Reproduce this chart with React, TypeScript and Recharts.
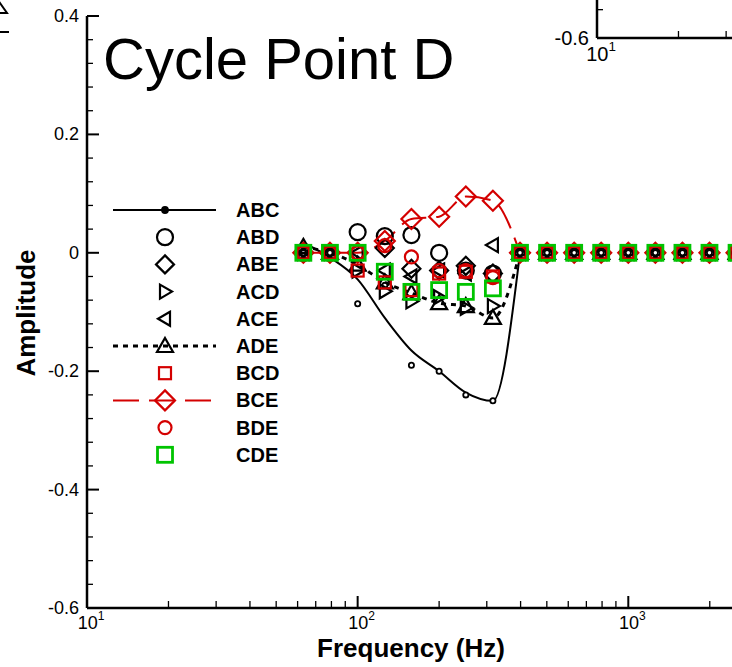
import { LineChart, Line, XAxis, YAxis, Legend } from "recharts";

const FONT = "'Liberation Sans', Arial, sans-serif";
const RED = "#d40000";
const GREEN = "#00c400";

// frequencies (Hz), 1/10 decade steps
const FREQ = [63, 79, 100, 126, 158, 200, 251, 316, 398, 501, 631, 794, 1000, 1259, 1585, 1995, 2512];

// amplitudes
const ABC = [0, 0, -0.086, -0.055, -0.19, -0.2, -0.24, -0.25, 0, 0, 0, 0, 0, 0, 0, 0, 0];
const ABC_FIT = [0.017, -0.008, -0.045, -0.11, -0.165, -0.2, -0.236, -0.25, 0];
const ABD = [0, 0, 0.035, 0.028, 0.03, 0, -0.03, -0.035, 0, 0, 0, 0, 0, 0, 0, 0, 0];
const ABE = [0, 0, 0, 0.008, -0.027, -0.03, -0.022, -0.035, 0, 0, 0, 0, 0, 0, 0, 0, 0];
const ACD = [0, 0, -0.03, -0.065, -0.082, -0.075, -0.093, -0.09, 0, 0, 0, 0, 0, 0, 0, 0, 0];
const ACE = [0, 0, 0, -0.03, -0.04, -0.03, -0.035, 0.013, 0, 0, 0, 0, 0, 0, 0, 0, 0];
const ADE = [0.01, 0, -0.02, -0.05, -0.068, -0.085, -0.09, -0.11, 0, 0, 0, 0, 0, 0, 0, 0, 0];
const BCD = [0, 0, -0.03, -0.05, -0.063, -0.035, -0.032, -0.04, 0, 0, 0, 0, 0, 0, 0, 0, 0];
const BCE = [0, 0, 0, 0.02, 0.057, 0.061, 0.095, 0.088, 0, 0, 0, 0, 0, 0, 0, 0, 0];
const BDE = [0, 0, 0, 0.012, -0.007, -0.03, -0.03, -0.042, 0, 0, 0, 0, 0, 0, 0, 0, 0];
const CDE = [0, 0, 0, -0.032, -0.066, -0.063, -0.066, -0.06, 0, 0, 0, 0, 0, 0, 0, 0, 0];

// lines are only drawn up to this frequency
const LINE_END_HZ = 398;

const X_TICKS = [10, 20, 30, 40, 50, 60, 70, 80, 90, 100, 200, 300, 400, 500, 600, 700, 800, 900, 1000, 2000];
const Y_TICKS = [
  -0.6, -0.56, -0.52, -0.48, -0.44, -0.4, -0.36, -0.32, -0.28, -0.24, -0.2, -0.16, -0.12,
  -0.08, -0.04, 0, 0.04, 0.08, 0.12, 0.16, 0.2, 0.24, 0.28, 0.32, 0.36, 0.4,
];
// only the corner of the panel above is on the page
const INSET_X_TICKS = [10, 20, 30];
const INSET_Y_TICKS = [-0.6, -0.5];

type Shape = "dot" | "circle" | "circleSm" | "diamond" | "diamondLg" | "triR" | "triL" | "triU" | "square" | "squareLg";
type LineKind = "none" | "solid" | "dotted" | "dashed";

const SERIES: { key: string; name: string; shape: Shape; color: string; line: LineKind }[] = [
  { key: "abc", name: "ABC", shape: "dot", color: "#000", line: "solid" },
  { key: "abd", name: "ABD", shape: "circle", color: "#000", line: "none" },
  { key: "abe", name: "ABE", shape: "diamond", color: "#000", line: "none" },
  { key: "acd", name: "ACD", shape: "triR", color: "#000", line: "none" },
  { key: "ace", name: "ACE", shape: "triL", color: "#000", line: "none" },
  { key: "ade", name: "ADE", shape: "triU", color: "#000", line: "dotted" },
  { key: "bcd", name: "BCD", shape: "square", color: RED, line: "none" },
  { key: "bce", name: "BCE", shape: "diamondLg", color: RED, line: "dashed" },
  { key: "bde", name: "BDE", shape: "circleSm", color: RED, line: "none" },
  { key: "cde", name: "CDE", shape: "squareLg", color: GREEN, line: "none" },
];

const rows = FREQ.map((f, i) => ({
  f,
  abc: ABC[i],
  abcFit: i < ABC_FIT.length ? ABC_FIT[i] : null,
  abd: ABD[i],
  abe: ABE[i],
  acd: ACD[i],
  ace: ACE[i],
  ade: ADE[i],
  bcd: BCD[i],
  bce: BCE[i],
  bde: BDE[i],
  cde: CDE[i],
}));

function Marker({ shape, x, y, color, filled }: { shape: Shape; x: number; y: number; color: string; filled?: boolean }) {
  const sw = 2.2;
  switch (shape) {
    case "dot":
      return <circle cx={x} cy={y} r={filled ? 3 : 2.6} fill={filled ? color : "#fff"} stroke={color} strokeWidth={1.8} />;
    case "circle":
      return <circle cx={x} cy={y} r={8} fill="none" stroke={color} strokeWidth={sw} />;
    case "circleSm":
      return <circle cx={x} cy={y} r={6.5} fill="none" stroke={color} strokeWidth={sw} />;
    case "diamond":
    case "diamondLg": {
      const s = shape === "diamond" ? 9 : 10;
      return <polygon points={`${x},${y - s} ${x + s},${y} ${x},${y + s} ${x - s},${y}`} fill="none" stroke={color} strokeWidth={sw} />;
    }
    case "triR":
      return <polygon points={`${x - 5},${y - 7} ${x + 7},${y} ${x - 5},${y + 7}`} fill="none" stroke={color} strokeWidth={sw} />;
    case "triL":
      return <polygon points={`${x + 5},${y - 7} ${x - 7},${y} ${x + 5},${y + 7}`} fill="none" stroke={color} strokeWidth={sw} />;
    case "triU":
      return <polygon points={`${x},${y - 8} ${x + 8},${y + 6} ${x - 8},${y + 6}`} fill="none" stroke={color} strokeWidth={sw} />;
    case "square":
      return <rect x={x - 6} y={y - 6} width={12} height={12} fill="none" stroke={color} strokeWidth={sw} />;
    case "squareLg":
      return <rect x={x - 7.5} y={y - 7.5} width={15} height={15} fill="none" stroke={color} strokeWidth={2.8} />;
  }
  return null;
}

const dotFor = (s: (typeof SERIES)[number]) => (p: any) => {
  const k = `${s.key}-${p.index}`;
  if (p.cx == null || p.cy == null || p.value == null) return <g key={k} />;
  return (
    <g key={k}>
      <Marker shape={s.shape} x={p.cx} y={p.cy} color={s.color} />
    </g>
  );
};

const isPow10 = (v: number) => Math.abs(Math.log10(v) - Math.round(Math.log10(v))) < 1e-9;
const isMajorY = (v: number) => Math.abs(v / 0.2 - Math.round(v / 0.2)) < 1e-6;
const fmtY = (v: number) => (Math.abs(v) < 1e-9 ? "0" : v.toFixed(1));

const xTick = (fs: number) => (p: any) => {
  const { x, y, payload } = p;
  const v = payload.value as number;
  const major = isPow10(v);
  return (
    <g>
      <line x1={x} x2={x} y1={y} y2={y - (major ? 12 : 7)} stroke="#000" strokeWidth={major ? 2 : 1.3} />
      {major && (
        <text x={x + 4} y={y + fs + 3} textAnchor="middle" fontSize={fs} fontFamily={FONT} fill="#000">
          10
          <tspan dy={-fs / 2} fontSize={fs * 0.67}>
            {Math.round(Math.log10(v))}
          </tspan>
        </text>
      )}
    </g>
  );
};

const yTick = (fs: number) => (p: any) => {
  const { x, y, payload } = p;
  const v = payload.value as number;
  const major = isMajorY(v);
  return (
    <g>
      <line x1={x} x2={x + (major ? 12 : 6)} y1={y} y2={y} stroke="#000" strokeWidth={major ? 2 : 1.3} />
      {major && (
        <text x={x - 8} y={y + fs / 3} textAnchor="end" fontSize={fs} fontFamily={FONT} fill="#000">
          {fmtY(v)}
        </text>
      )}
    </g>
  );
};

const dashOf = (l: LineKind) => (l === "dotted" ? "5 5" : l === "dashed" ? "26 10" : undefined);
const widthOf = (l: LineKind) => (l === "dotted" ? 3 : 2);

function LegendBox() {
  return (
    <svg width={200} height={280} style={{ overflow: "visible" }}>
      {SERIES.map((s, i) => {
        const cy = 14 + i * 27.2;
        return (
          <g key={s.key}>
            {s.line !== "none" && (
              <line x1={8} x2={111} y1={cy} y2={cy} stroke={s.color} strokeWidth={widthOf(s.line)} strokeDasharray={dashOf(s.line)} />
            )}
            <Marker shape={s.shape} x={60} y={cy} color={s.color} filled />
            <text x={131} y={cy + 7} fontSize={20} fontWeight="bold" fontFamily={FONT} fill="#000">
              {s.name}
            </text>
          </g>
        );
      })}
    </svg>
  );
}

const lineVal = (key: string) => (r: any) => (r.f <= LINE_END_HZ ? r[key] : null);

export default function App() {
  return (
    <div style={{ position: "absolute", left: 0, top: 0, width: 732, height: 667, overflow: "hidden", background: "#fff", fontFamily: FONT }}>
      {/* bottom of the panel above, cut off by the page */}
      <div style={{ position: "absolute", left: 510, top: -40 }}>
        <LineChart width={746} height={108} data={rows} margin={{ top: 10, right: 10, bottom: 0, left: 0 }}>
          <XAxis dataKey="f" type="number" scale="log" domain={[10, 2500]} ticks={INSET_X_TICKS} interval={0} tick={xTick(20)} tickLine={false} tickSize={0} tickMargin={0} height={30} axisLine={{ stroke: "#000", strokeWidth: 2.5 }} allowDataOverflow />
          <YAxis type="number" domain={[-0.6, -0.36]} ticks={INSET_Y_TICKS} interval={0} tick={yTick(20)} tickLine={false} tickSize={0} tickMargin={0} width={87} axisLine={{ stroke: "#000", strokeWidth: 2.5 }} allowDataOverflow />
          <Line dataKey="abc" stroke="none" dot={false} activeDot={false} isAnimationActive={false} />
        </LineChart>
      </div>

      <div style={{ position: "absolute", left: 0, top: 0 }}>
        <LineChart width={746} height={667} data={rows} margin={{ top: 16, right: 10, bottom: 0, left: 0 }}>
          <XAxis dataKey="f" type="number" scale="log" domain={[10, 2500]} ticks={X_TICKS} interval={0} tick={xTick(18)} tickLine={false} tickSize={0} tickMargin={0} height={59} axisLine={{ stroke: "#000", strokeWidth: 2.5 }} allowDataOverflow />
          <YAxis type="number" domain={[-0.6, 0.4]} ticks={Y_TICKS} interval={0} tick={yTick(18)} tickLine={false} tickSize={0} tickMargin={0} width={87} axisLine={{ stroke: "#000", strokeWidth: 2.5 }} allowDataOverflow />
          <Legend layout="vertical" align="center" verticalAlign="middle" content={LegendBox} wrapperStyle={{ left: 105, top: 196, width: 200, height: 280 }} />

          <Line dataKey="abcFit" type="monotone" stroke="#000" strokeWidth={2} dot={false} activeDot={false} isAnimationActive={false} />
          <Line dataKey={lineVal("ade")} type="monotone" stroke="#000" strokeWidth={3} strokeDasharray="5 5" dot={false} activeDot={false} isAnimationActive={false} />
          <Line dataKey={lineVal("bce")} type="monotone" stroke={RED} strokeWidth={2} strokeDasharray="26 10" dot={false} activeDot={false} isAnimationActive={false} />

          {SERIES.map((s) => (
            <Line key={s.key} dataKey={s.key} name={s.name} stroke="none" dot={dotFor(s)} activeDot={false} isAnimationActive={false} />
          ))}
        </LineChart>
      </div>

      <svg width={732} height={667} style={{ position: "absolute", left: 0, top: 0, pointerEvents: "none" }}>
        <text x={103} y={79} fontSize={58} fontFamily={FONT} fill="#000">
          Cycle Point D
        </text>
        <text x={411} y={657} textAnchor="middle" fontSize={26} fontWeight="bold" fontFamily={FONT} fill="#000">
          Frequency (Hz)
        </text>
        <text x={35} y={313} textAnchor="middle" fontSize={26} fontWeight="bold" fontFamily={FONT} fill="#000" transform="rotate(-90 35 313)">
          Amplitude
        </text>
        {/* legend fragment of the neighbouring panel */}
        <polygon points="0,3 7,13 -7,13" fill="none" stroke="#000" strokeWidth={2} />
        <line x1={0} x2={9} y1={32} y2={32} stroke="#000" strokeWidth={2} />
      </svg>
    </div>
  );
}
